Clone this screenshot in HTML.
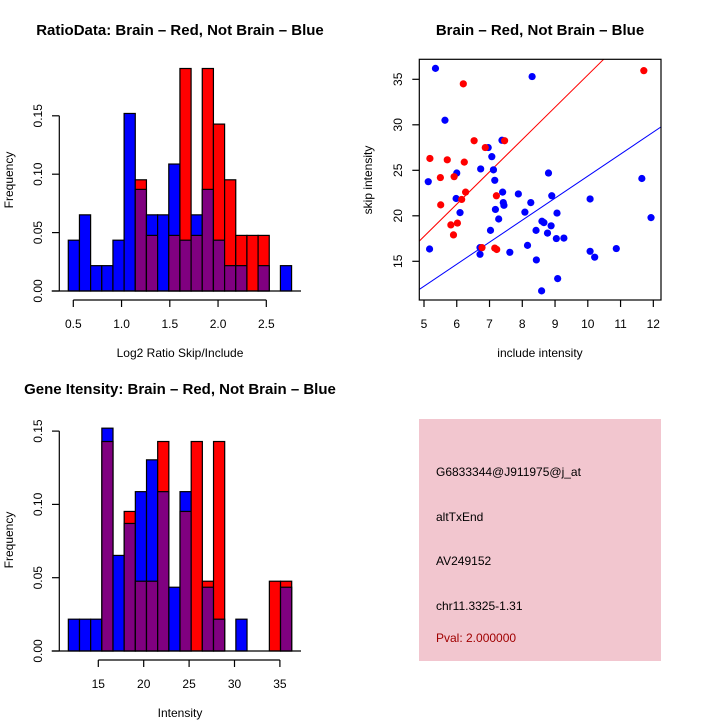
<!DOCTYPE html>
<html><head><meta charset="utf-8"><style>
html,body{margin:0;padding:0;background:#fff;}
svg{display:block;font-family:"Liberation Sans",sans-serif;}
</style></head><body>
<svg id="s" width="720" height="720" viewBox="0 0 720 720">
<rect width="720" height="720" fill="#fff"/>
<g id="p1"></g>
<g id="p2"></g>
<g id="p3"></g>
<g id="p4">
<rect x="419" y="419" width="242" height="242" fill="#f2c6cf"/>
<text x="436" y="476" font-size="12">G6833344@J911975@j_at</text>
<text x="436" y="521" font-size="12">altTxEnd</text>
<text x="436" y="565" font-size="12">AV249152</text>
<text x="436" y="610" font-size="12">chr11.3325-1.31</text>
<text x="436" y="642" font-size="12" fill="#a00000">Pval: 2.000000</text>
</g>
</svg>
<script>
// ---- data: ratio histogram ----
const ratioBinStart = 0.448;
const ratioBinWidth = 0.1157;
const ratioBlue = [0.0435,0.0652,0.0217,0.0217,0.0435,0.152,0.087,0.0652,0.0652,0.1087,0.0435,0.0652,0.087,0.0435,0.0217,0.0217,0,0.0217,0,0.0217];
const ratioRed  = [0,0,0,0,0,0,0.0952,0.0476,0,0.0476,0.1905,0.0476,0.1905,0.1429,0.0952,0.0476,0.0476,0.0476,0,0];
const ratioXTicks = [0.5,1.0,1.5,2.0,2.5];
const ratioYTicks = [0,0.05,0.10,0.15];
// ---- data: intensity histogram ----
const intBinStart = 11.7;
const intBinWidth = 1.23;
const intBlue = [0.0217,0.0217,0.0217,0.152,0.0652,0.087,0.1087,0.1304,0.1087,0.0435,0.1087,0,0.0435,0.0217,0,0.0217,0,0,0,0.0435];
const intRed  = [0,0,0,0.1429,0,0.0952,0.0476,0.0476,0.1429,0,0.0952,0.1429,0.0476,0.1429,0,0,0,0,0.0476,0.0476];
const intXTicks = [15,20,25,30,35];
const intYTicks = [0,0.05,0.10,0.15];
// ---- data: scatter ----
const blueX = [5.35,5.64,5.13,5.17,6.0,5.98,6.1,6.73,6.96,7.07,7.12,7.16,7.38,7.4,7.42,7.44,7.18,7.28,7.03,6.71,6.71,7.62,7.88,8.26,8.08,8.16,8.30,8.42,8.43,8.59,8.6,8.66,8.8,8.9,8.88,8.77,9.06,9.04,9.27,9.08,10.07,10.07,10.21,10.87,11.65,11.93];
const blueY = [36.2,30.5,23.75,16.35,24.7,21.9,20.35,25.15,27.5,26.5,25.05,23.9,28.3,22.6,21.45,21.15,20.7,19.65,18.4,16.5,15.77,15.99,22.4,21.45,20.4,16.75,35.3,18.4,15.15,11.75,19.4,19.25,24.7,22.2,18.9,18.1,20.3,17.5,17.55,13.1,21.85,16.1,15.45,16.4,24.1,19.8];
const redX = [5.18,5.5,5.51,5.71,5.92,5.82,5.9,6.02,6.15,6.2,6.23,6.27,6.53,6.87,7.46,7.21,6.77,7.16,7.22,11.71];
const redY = [26.3,24.2,21.2,26.15,24.3,19.0,17.9,19.2,21.8,34.5,25.9,22.6,28.25,27.5,28.25,22.2,16.5,16.45,16.3,35.95];
const redFit = [-0.02,3.55];
const blueFit = [0.16,2.42];
const scXTicks = [5,6,7,8,9,10,11,12];
const scYTicks = [15,20,25,30,35];

const NS="http://www.w3.org/2000/svg";
function mk(parent,tag,attrs){const e=document.createElementNS(NS,tag);for(const k in attrs)e.setAttribute(k,attrs[k]);parent.appendChild(e);return e;}
function txt(parent,x,y,s,size,extra){const t=mk(parent,'text',Object.assign({x:x,y:y,'font-size':size,'text-anchor':'middle'},extra||{}));t.textContent=s;return t;}

function hist(g,cfg){
  const sx=v=>cfg.x0px+(v-cfg.x0)*cfg.kx;
  const sy=v=>cfg.basePx-v*cfg.ky;
  for(let i=0;i<cfg.blue.length;i++){
    const l=sx(cfg.start+i*cfg.w), r=sx(cfg.start+(i+1)*cfg.w);
    const b=cfg.blue[i], rd=cfg.red[i];
    const mx=Math.max(b,rd), mn=Math.min(b,rd);
    if(mx>0){
      const top=mk(g,'rect',{x:l,y:sy(mx),width:r-l,height:sy(0)-sy(mx),fill:b>=rd?'#0000ff':'#ff0000',stroke:'#000','stroke-width':1.2});
      
      
    }
    if(mn>0){
      const ov=mk(g,'rect',{x:l,y:sy(mn),width:r-l,height:sy(0)-sy(mn),fill:'#800080',stroke:'#000','stroke-width':1.2});
      
      
    }
  }
  const bl=mk(g,'line',{x1:51.7,x2:301,y1:cfg.basePx,y2:cfg.basePx,stroke:'#000','stroke-width':1.2});
  
  const xa=mk(g,'g',{});
  
  const xt=cfg.xticks;
  mk(xa,'line',{x1:sx(xt[0]),x2:sx(xt[xt.length-1]),y1:cfg.xAxisY,y2:cfg.xAxisY,stroke:'#000','stroke-width':1.2});
  xt.forEach(v=>{mk(xa,'line',{x1:sx(v),x2:sx(v),y1:cfg.xAxisY,y2:cfg.xAxisY+7,stroke:'#000','stroke-width':1.2});
    const t=txt(xa,sx(v),cfg.xAxisY+28,cfg.xfmt(v),12);});
  const ya=mk(g,'g',{});
  
  const yt=cfg.yticks;
  mk(ya,'line',{x1:59.3,x2:59.3,y1:sy(yt[0]),y2:sy(yt[yt.length-1]),stroke:'#000','stroke-width':1.2});
  yt.forEach(v=>{mk(ya,'line',{x1:52,x2:59.3,y1:sy(v),y2:sy(v),stroke:'#000','stroke-width':1.2});
    const t=txt(ya,0,0,v.toFixed(2),12,{transform:`translate(42,${sy(v)}) rotate(-90)`});});
  const yl=txt(g,0,0,'Frequency',12,{transform:`translate(13,${cfg.ylabY}) rotate(-90)`});
  
  const xl=txt(g,cfg.xlabX,cfg.xlabY,cfg.xlab,12);
  
  const ti=txt(g,cfg.titleX,cfg.titleY,cfg.title,15,{'font-weight':'bold'});
  
}

hist(document.getElementById('p1'),{start:ratioBinStart,w:ratioBinWidth,blue:ratioBlue,red:ratioRed,
  x0:0.5,x0px:73.3,kx:96.5,basePx:291,ky:1168,xAxisY:300,xticks:ratioXTicks,yticks:ratioYTicks,
  xfmt:v=>v.toFixed(1),xlab:'Log2 Ratio Skip/Include',xlabX:180,xlabY:357,ylabY:180,
  title:'RatioData: Brain \u2013 Red, Not Brain \u2013 Blue',titleX:180,titleY:35});
hist(document.getElementById('p3'),{start:intBinStart,w:intBinWidth,blue:intBlue,red:intRed,
  x0:15,x0px:98.3,kx:9.08,basePx:651,ky:1466,xAxisY:660,xticks:intXTicks,yticks:intYTicks,
  xfmt:v=>String(v),xlab:'Intensity',xlabX:180,xlabY:717,ylabY:540,
  title:'Gene Itensity: Brain \u2013 Red, Not Brain \u2013 Blue',titleX:180,titleY:394});

(function(){
  const g=document.getElementById('p2');
  const sx=v=>424+(v-5)*32.76;
  const sy=v=>261.3-(v-15)*9.1;
  const L=419.3,R=661,T=59.3,B=300;
  const cp=mk(g,'clipPath',{id:'cl'});mk(cp,'rect',{x:L,y:T,width:R-L,height:B-T});
  [[redFit,'#ff0000','red-fit-line'],[blueFit,'#0000ff','blue-fit-line']].forEach(([f,c,n])=>{
    const xa=4.5,xb=12.5;
    const l=mk(g,'line',{x1:sx(xa),y1:sy(f[0]+f[1]*xa),x2:sx(xb),y2:sy(f[0]+f[1]*xb),stroke:c,'stroke-width':1,'clip-path':'url(#cl)'});
    
  });
  blueX.forEach((x,i)=>{const c=mk(g,'circle',{cx:sx(x),cy:sy(blueY[i]),r:3.6,fill:'#0000ff'});
    });
  redX.forEach((x,i)=>{const c=mk(g,'circle',{cx:sx(x),cy:sy(redY[i]),r:3.6,fill:'#ff0000'});
    });
  const box=mk(g,'rect',{x:L,y:T,width:R-L,height:B-T,fill:'none',stroke:'#000','stroke-width':1.2});
  
  scXTicks.forEach(v=>{mk(g,'line',{x1:sx(v),x2:sx(v),y1:B,y2:B+7,stroke:'#000','stroke-width':1.2});
    const t=txt(g,sx(v),B+28,String(v),12);});
  scYTicks.forEach(v=>{mk(g,'line',{x1:L-7,x2:L,y1:sy(v),y2:sy(v),stroke:'#000','stroke-width':1.2});
    const t=txt(g,0,0,String(v),12,{transform:`translate(402,${sy(v)}) rotate(-90)`});});
  const xl=txt(g,540,357,'include intensity',12);
  const yl=txt(g,0,0,'skip intensity',12,{transform:'translate(372,180) rotate(-90)'});
  const ti=txt(g,540,35,'Brain \u2013 Red, Not Brain \u2013 Blue',15,{'font-weight':'bold'});
})();
</script>
</body></html>
